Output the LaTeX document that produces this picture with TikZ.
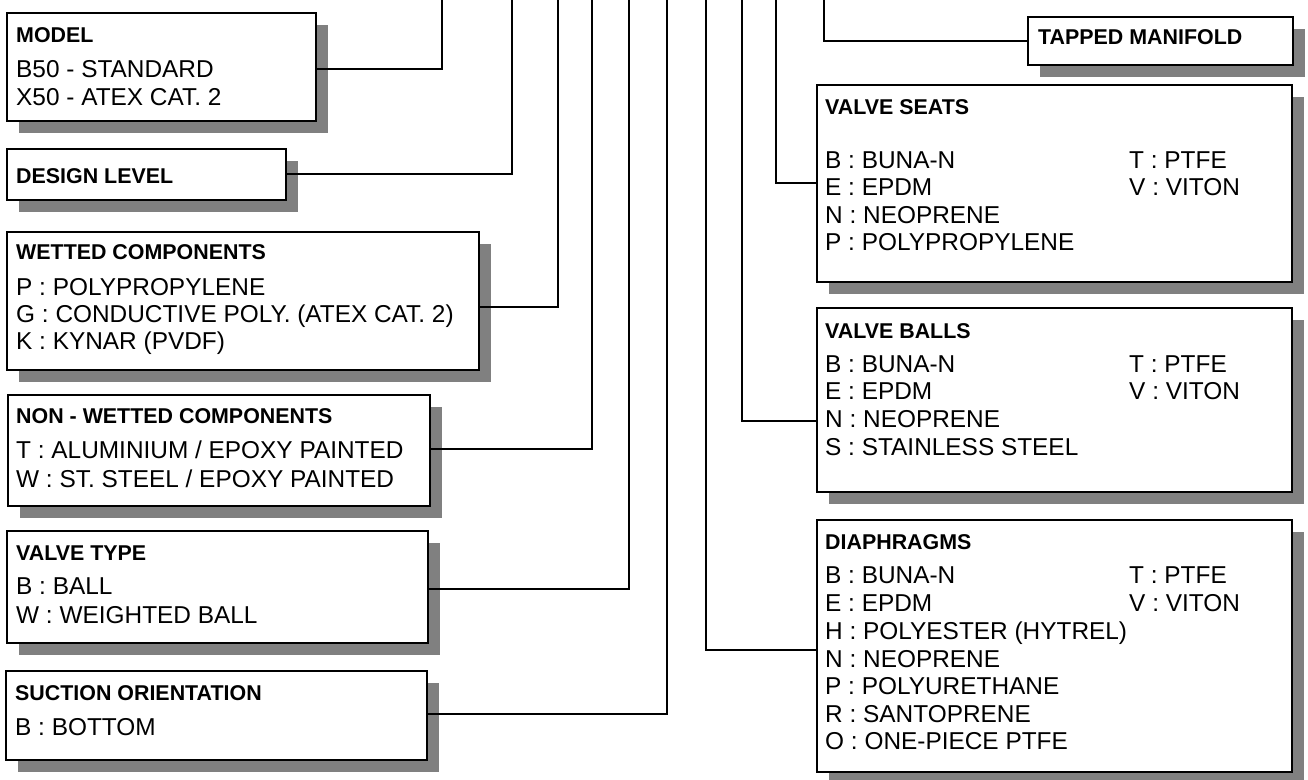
\documentclass[tikz,border=0pt]{standalone}
\usepackage{fontspec}
\newfontfamily\arialfont{Liberation Sans}
\usetikzlibrary{shadows}
\definecolor{shadowgray}{RGB}{128,128,128}
\begin{document}
\begin{tikzpicture}[x=1pt,y=-1pt,
  box/.style={draw, line width=2.6pt, fill=white, inner sep=0pt, outer sep=0pt, anchor=north west,
    drop shadow={shadow xshift=11.5pt, shadow yshift=-11.5pt, fill=shadowgray, opacity=1}},
  ttl/.style={font={\arialfont\bfseries\fontsize{21.4}{24}\selectfont}, anchor=base west, inner sep=0pt},
  txt/.style={font={\arialfont\fontsize{24.4}{28}\selectfont}, anchor=base west, inner sep=0pt},
  conn/.style={line width=2pt}]
\useasboundingbox (0,0) rectangle (1308,779);

% ---------- left boxes ----------
\node[box, minimum width=309pt, minimum height=108pt] (mdl) at (7,13) {};
\node[ttl] (mdlT) at (16,42) {MODEL};
\node[txt] (mdl1) at (16,77) {B50 - STANDARD};
\node[txt] (mdl2) at (16,105) {X50 - ATEX CAT. 2};

\node[box, minimum width=279pt, minimum height=51pt] (dsg) at (7,149) {};
\node[ttl] (dsgT) at (16,183) {DESIGN LEVEL};

\node[box, minimum width=472pt, minimum height=138pt] (wet) at (7,232) {};
\node[ttl] (wetT) at (16,259) {WETTED COMPONENTS};
\node[txt] (wet1) at (16,295) {P : POLYPROPYLENE};
\node[txt] (wet2) at (16,322) {G : CONDUCTIVE POLY. (ATEX CAT. 2)};
\node[txt] (wet3) at (16,349) {K : KYNAR (PVDF)};

\node[box, minimum width=422pt, minimum height=111pt] (nwt) at (8,395) {};
\node[ttl] (nwtT) at (16,423) {NON - WETTED COMPONENTS};
\node[txt] (nwt1) at (16,458) {T : ALUMINIUM / EPOXY PAINTED};
\node[txt] (nwt2) at (16,487) {W : ST. STEEL / EPOXY PAINTED};

\node[box, minimum width=421pt, minimum height=112pt] (vty) at (7,531) {};
\node[ttl] (vtyT) at (16,560) {VALVE TYPE};
\node[txt] (vty1) at (16,594) {B : BALL};
\node[txt] (vty2) at (16,623) {W : WEIGHTED BALL};

\node[box, minimum width=421pt, minimum height=89pt] (suc) at (6,671) {};
\node[ttl] (sucT) at (15,700) {SUCTION ORIENTATION};
\node[txt] (suc1) at (15,735) {B : BOTTOM};

% ---------- right boxes ----------
\node[box, minimum width=265pt, minimum height=48pt] (tap) at (1028,17) {};
\node[ttl] (tapT) at (1038,44) {TAPPED MANIFOLD};

\node[box, minimum width=475pt, minimum height=197pt] (vse) at (817,85) {};
\node[ttl] (vseT) at (825,114) {VALVE SEATS};
\node[txt] (vse1) at (825,168) {B : BUNA-N};
\node[txt] (vse2) at (825,195) {E : EPDM};
\node[txt] (vse3) at (825,223) {N : NEOPRENE};
\node[txt] (vse4) at (825,250) {P : POLYPROPYLENE};
\node[txt] (vse5) at (1129,168) {T : PTFE};
\node[txt] (vse6) at (1129,195) {V : VITON};

\node[box, minimum width=475pt, minimum height=184pt] (vba) at (817,308) {};
\node[ttl] (vbaT) at (825,338) {VALVE BALLS};
\node[txt] (vba1) at (825,372) {B : BUNA-N};
\node[txt] (vba2) at (825,399) {E : EPDM};
\node[txt] (vba3) at (825,427) {N : NEOPRENE};
\node[txt] (vba4) at (825,455) {S : STAINLESS STEEL};
\node[txt] (vba5) at (1129,372) {T : PTFE};
\node[txt] (vba6) at (1129,399) {V : VITON};

\node[box, minimum width=475pt, minimum height=252pt] (dia) at (817,520) {};
\node[ttl] (diaT) at (825,549) {DIAPHRAGMS};
\node[txt] (dia1) at (825,583) {B : BUNA-N};
\node[txt] (dia2) at (825,611) {E : EPDM};
\node[txt] (dia3) at (825,639) {H : POLYESTER (HYTREL)};
\node[txt] (dia4) at (825,667) {N : NEOPRENE};
\node[txt] (dia5) at (825,694) {P : POLYURETHANE};
\node[txt] (dia6) at (825,722) {R : SANTOPRENE};
\node[txt] (dia7) at (825,749) {O : ONE-PIECE PTFE};
\node[txt] (dia8) at (1129,583) {T : PTFE};
\node[txt] (dia9) at (1129,611) {V : VITON};

% ---------- connector coordinates ----------
\coordinate (cM) at (442,69);   \coordinate (tM) at (442,0);
\coordinate (cD) at (512,174);  \coordinate (tD) at (512,0);
\coordinate (cW) at (558,307);  \coordinate (tW) at (558,0);
\coordinate (cN) at (591.5,449);\coordinate (tN) at (591.5,0);
\coordinate (cV) at (629,589);  \coordinate (tV) at (629,0);
\coordinate (cS) at (667,714);  \coordinate (tS) at (667,0);
\coordinate (cH) at (706,650);  \coordinate (tH) at (706,0);
\coordinate (cB) at (742,421);  \coordinate (tB) at (742,0);
\coordinate (cE) at (776,183);  \coordinate (tE) at (776,0);
\coordinate (cT) at (824,41);   \coordinate (tT) at (824,0);

% ---------- connectors ----------
\draw[conn] (cM -| mdl.east) -- (cM) -- (tM);
\draw[conn] (cD -| dsg.east) -- (cD) -- (tD);
\draw[conn] (cW -| wet.east) -- (cW) -- (tW);
\draw[conn] (cN -| nwt.east) -- (cN) -- (tN);
\draw[conn] (cV -| vty.east) -- (cV) -- (tV);
\draw[conn] (cS -| suc.east) -- (cS) -- (tS);
\draw[conn] (cH -| dia.west) -- (cH) -- (tH);
\draw[conn] (cB -| vba.west) -- (cB) -- (tB);
\draw[conn] (cE -| vse.west) -- (cE) -- (tE);
\draw[conn] (cT -| tap.west) -- (cT) -- (tT);
\end{tikzpicture}
\end{document}
